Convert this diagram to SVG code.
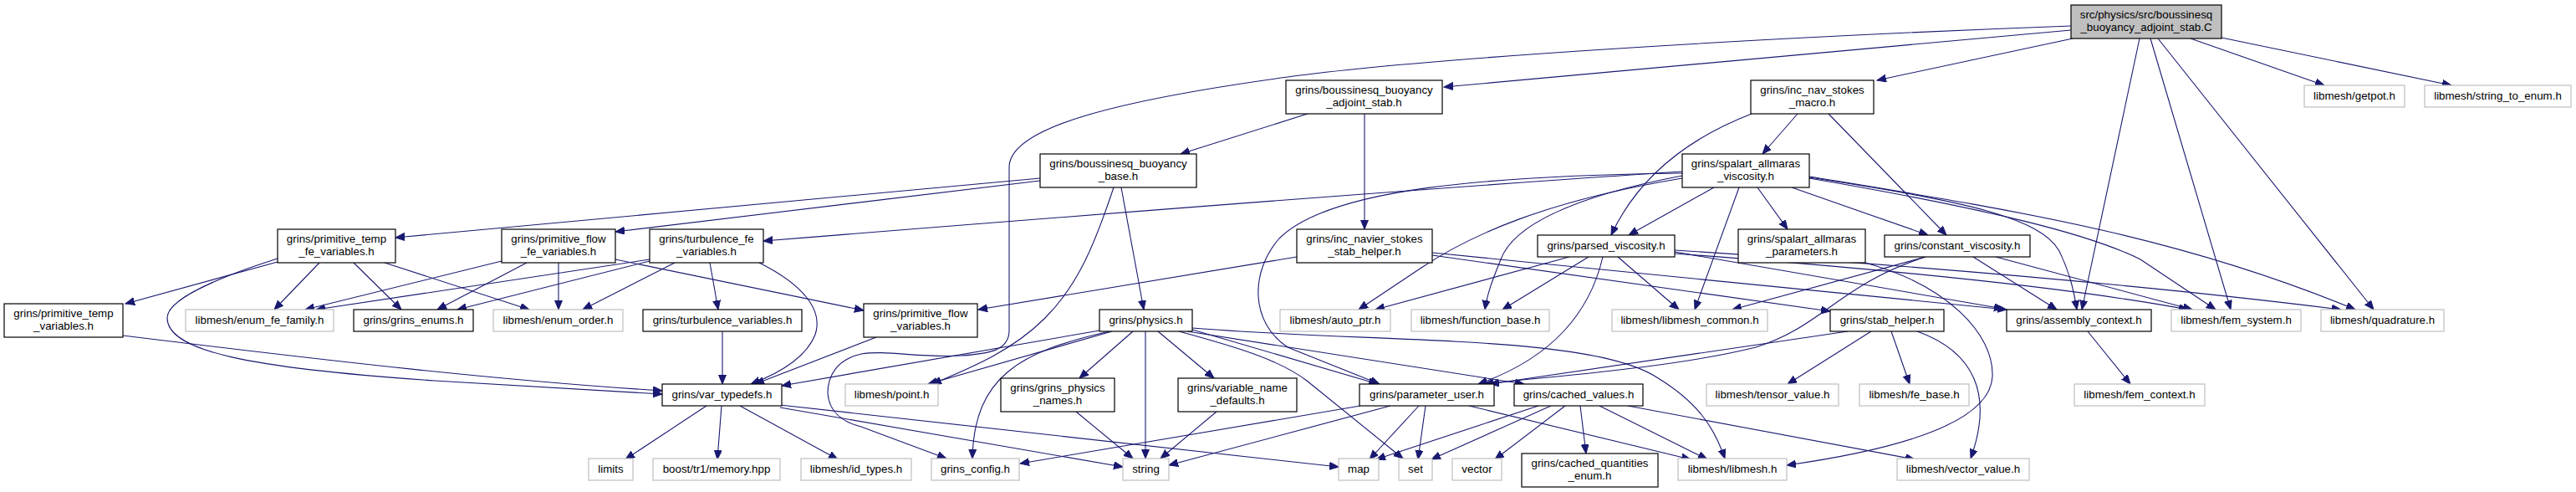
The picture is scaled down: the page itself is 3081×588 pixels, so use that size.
<svg xmlns="http://www.w3.org/2000/svg" width="3081" height="588" viewBox="0 0 3081 588">
<style>
.n rect{fill:#fff;stroke:#000;stroke-width:1.2}
.g rect{fill:#fff;stroke:#bfbfbf;stroke-width:1.2}
.r rect{fill:#bfbfbf;stroke:#000;stroke-width:1.2}
text{font-family:"Liberation Sans",Arial,sans-serif;font-size:13.33px;text-anchor:middle;fill:#000}
#edges path{fill:none;stroke:#191970;stroke-width:1.1;marker-end:url(#a)}
</style>
<defs>
<marker id="a" markerWidth="12" markerHeight="10" refX="11" refY="4.5" orient="auto" markerUnits="userSpaceOnUse"><path d="M0,0 L11,4.5 L0,9 z" fill="#191970" stroke="#191970" stroke-width="1"/></marker>
</defs>
<rect width="3081" height="588" fill="#fff"/>
<g id="edges">
<path d="M2477,36 L1727,104"/>
<path d="M2477,31 C2100,45 1700,70 1540,92 C1350,118 1207,150 1207,200 L1207,395 C1207,420 1180,423 1150,425 C1100,428 1060,418 1030,423 C1000,430 990,450 990,470 C992,495 1010,505 1030,510 L1132,548"/>
<path d="M2479,46 L2245,96"/>
<path d="M2620,46 L2780,102"/>
<path d="M2657,45 L2932,102"/>
<path d="M2559,46 L2490,370"/>
<path d="M2572,46 L2668,370"/>
<path d="M2581,46 L2839,370"/>
<path d="M1567,135 L1412,184"/>
<path d="M1632,136 L1632,274"/>
<path d="M2150,136 L2108,184"/>
<path d="M2187,136 L2328,281"/>
<path d="M2095,136 C2020,165 1960,210 1927,281"/>
<path d="M1244,213 L473,284"/>
<path d="M1244,216 L736,277"/>
<path d="M1341,224 L1368,370"/>
<path d="M1332,224 C1310,290 1290,340 1250,380 C1210,420 1160,440 1115,459"/>
<path d="M2012,205 C1700,225 1200,265 913,288"/>
<path d="M2050,224 L1948,281"/>
<path d="M2102,224 L2138,274"/>
<path d="M2143,224 L2306,281"/>
<path d="M2080,224 L2027,370"/>
<path d="M2012,213 C1850,240 1760,280 1700,320 L1625,370"/>
<path d="M2012,210 C1880,235 1810,270 1795,310 C1785,335 1779,350 1776,370"/>
<path d="M2012,207 C1780,210 1590,225 1530,285 C1495,325 1495,385 1540,415 L1650,459"/>
<path d="M2164,212 C2350,240 2440,260 2463,300 C2475,325 2480,345 2484,370"/>
<path d="M2164,213 C2380,250 2500,280 2560,310 L2650,370"/>
<path d="M2164,211 C2400,250 2600,280 2817,370"/>
<path d="M332,313 L150,363"/>
<path d="M382,314 L328,370"/>
<path d="M423,314 L480,370"/>
<path d="M460,314 L633,370"/>
<path d="M332,309 C250,335 200,360 200,380 C200,420 300,440 520,455 L792,471"/>
<path d="M147,401 C400,432 600,455 792,467"/>
<path d="M600,312 L365,370"/>
<path d="M630,314 L523,370"/>
<path d="M668,314 L668,370"/>
<path d="M736,310 L1033,371"/>
<path d="M777,310 L378,370"/>
<path d="M777,312 L547,370"/>
<path d="M807,314 L697,370"/>
<path d="M849,314 L859,370"/>
<path d="M908,314 C960,340 985,370 975,400 C965,425 935,445 898,459"/>
<path d="M864,396 L864,459"/>
<path d="M1048,403 L903,459"/>
<path d="M1315,395 L935,461"/>
<path d="M1551,307 L1170,370"/>
<path d="M1713,305 L2189,372"/>
<path d="M1713,302 L2400,370"/>
<path d="M2003,301 L2396,369"/>
<path d="M2003,303 C2300,325 2500,348 2617,370"/>
<path d="M2003,299 C2300,318 2560,340 2800,370"/>
<path d="M1877,307 L1645,370"/>
<path d="M1900,307 L1797,370"/>
<path d="M1935,307 L2008,370"/>
<path d="M1917,307 C1900,380 1850,430 1768,459"/>
<path d="M2303,307 L2072,370"/>
<path d="M2303,307 C2200,340 2180,390 2100,415 C2000,440 1850,450 1775,459"/>
<path d="M2360,307 L2460,370"/>
<path d="M2387,307 L2622,370"/>
<path d="M2210,396 L1782,459"/>
<path d="M2238,396 L2138,459"/>
<path d="M2262,396 L2284,459"/>
<path d="M2293,396 C2360,420 2385,470 2357,548"/>
<path d="M2497,396 L2548,459"/>
<path d="M1330,396 L1110,459"/>
<path d="M1327,396 C1220,420 1165,450 1163,548"/>
<path d="M1355,396 L1291,452"/>
<path d="M1385,396 L1452,452"/>
<path d="M1370,396 L1370,548"/>
<path d="M1426,394 L1648,459"/>
<path d="M1420,396 L1823,459"/>
<path d="M1410,396 C1480,415 1530,430 1563,455 L1678,548"/>
<path d="M1426,392 C1650,410 1900,400 1980,450 C2030,480 2050,510 2063,548"/>
<path d="M1287,492 L1355,548"/>
<path d="M1455,492 L1388,548"/>
<path d="M845,485 L748,549"/>
<path d="M863,485 L858,549"/>
<path d="M885,485 L1002,549"/>
<path d="M933,484 L1601,558"/>
<path d="M933,487 L1343,558"/>
<path d="M1627,485 L1220,554"/>
<path d="M1663,485 L1398,556"/>
<path d="M1697,485 L1638,549"/>
<path d="M1705,485 L1696,549"/>
<path d="M1757,485 L2022,549"/>
<path d="M1840,485 L1646,549"/>
<path d="M1855,485 L1712,549"/>
<path d="M1872,485 L1788,549"/>
<path d="M1890,485 L1897,542"/>
<path d="M1913,485 L2042,549"/>
<path d="M1947,485 L2290,549"/>
<path d="M2227,313 C2330,340 2385,400 2383,450 C2380,510 2250,540 2137,556"/>
</g>
<g id="root" class="r"><rect x="2477" y="6" width="180" height="40"/><text x="2567" y="22">src/physics/src/boussinesq</text><text x="2567" y="37">_buoyancy_adjoint_stab.C</text></g>
<g id="bbas" class="n"><rect x="1538" y="96" width="187" height="40"/><text x="1631.5" y="112">grins/boussinesq_buoyancy</text><text x="1631.5" y="127">_adjoint_stab.h</text></g>
<g id="insm" class="n"><rect x="2094" y="96" width="147" height="40"/><text x="2167.5" y="112">grins/inc_nav_stokes</text><text x="2167.5" y="127">_macro.h</text></g>
<g id="getpot" class="g"><rect x="2756" y="102" width="120" height="26"/><text x="2816" y="119">libmesh/getpot.h</text></g>
<g id="s2e" class="g"><rect x="2900" y="102" width="175" height="26"/><text x="2987.5" y="119">libmesh/string_to_enum.h</text></g>
<g id="bbb" class="n"><rect x="1244" y="184" width="187" height="40"/><text x="1337.5" y="200">grins/boussinesq_buoyancy</text><text x="1337.5" y="215">_base.h</text></g>
<g id="sav" class="n"><rect x="2012" y="184" width="152" height="40"/><text x="2088" y="200">grins/spalart_allmaras</text><text x="2088" y="215">_viscosity.h</text></g>
<g id="ptfe" class="n"><rect x="332" y="274" width="141" height="40"/><text x="402.5" y="290">grins/primitive_temp</text><text x="402.5" y="305">_fe_variables.h</text></g>
<g id="pffe" class="n"><rect x="600" y="274" width="136" height="40"/><text x="668" y="290">grins/primitive_flow</text><text x="668" y="305">_fe_variables.h</text></g>
<g id="tfe" class="n"><rect x="777" y="274" width="136" height="40"/><text x="845" y="290">grins/turbulence_fe</text><text x="845" y="305">_variables.h</text></g>
<g id="inssh" class="n"><rect x="1551" y="274" width="162" height="40"/><text x="1632" y="290">grins/inc_navier_stokes</text><text x="1632" y="305">_stab_helper.h</text></g>
<g id="pv" class="n"><rect x="1839" y="281" width="164" height="26"/><text x="1921" y="298">grins/parsed_viscosity.h</text></g>
<g id="sap" class="n"><rect x="2079" y="274" width="152" height="40"/><text x="2155" y="290">grins/spalart_allmaras</text><text x="2155" y="305">_parameters.h</text></g>
<g id="cv" class="n"><rect x="2254" y="281" width="174" height="26"/><text x="2341" y="298">grins/constant_viscosity.h</text></g>
<g id="ptv" class="n"><rect x="5" y="363" width="142" height="40"/><text x="76" y="379">grins/primitive_temp</text><text x="76" y="394">_variables.h</text></g>
<g id="eff" class="g"><rect x="222" y="370" width="177" height="26"/><text x="310.5" y="387">libmesh/enum_fe_family.h</text></g>
<g id="ge" class="n"><rect x="423" y="370" width="143" height="26"/><text x="494.5" y="387">grins/grins_enums.h</text></g>
<g id="eo" class="g"><rect x="590" y="370" width="155" height="26"/><text x="667.5" y="387">libmesh/enum_order.h</text></g>
<g id="tv" class="n"><rect x="769" y="370" width="190" height="26"/><text x="864" y="387">grins/turbulence_variables.h</text></g>
<g id="pfv" class="n"><rect x="1033" y="363" width="136" height="40"/><text x="1101" y="379">grins/primitive_flow</text><text x="1101" y="394">_variables.h</text></g>
<g id="phys" class="n"><rect x="1315" y="370" width="111" height="26"/><text x="1370.5" y="387">grins/physics.h</text></g>
<g id="ap" class="g"><rect x="1531" y="370" width="132" height="26"/><text x="1597" y="387">libmesh/auto_ptr.h</text></g>
<g id="fb" class="g"><rect x="1688" y="370" width="165" height="26"/><text x="1770.5" y="387">libmesh/function_base.h</text></g>
<g id="lc" class="g"><rect x="1928" y="370" width="186" height="26"/><text x="2021" y="387">libmesh/libmesh_common.h</text></g>
<g id="sh" class="n"><rect x="2189" y="370" width="136" height="26"/><text x="2257" y="387">grins/stab_helper.h</text></g>
<g id="ac" class="n"><rect x="2400" y="370" width="173" height="26"/><text x="2486.5" y="387">grins/assembly_context.h</text></g>
<g id="fs" class="g"><rect x="2597" y="370" width="155" height="26"/><text x="2674.5" y="387">libmesh/fem_system.h</text></g>
<g id="q" class="g"><rect x="2776" y="370" width="147" height="26"/><text x="2849.5" y="387">libmesh/quadrature.h</text></g>
<g id="vt" class="n"><rect x="792" y="459" width="143" height="26"/><text x="863.5" y="476">grins/var_typedefs.h</text></g>
<g id="pt" class="g"><rect x="1011" y="459" width="111" height="26"/><text x="1066.5" y="476">libmesh/point.h</text></g>
<g id="gpn" class="n"><rect x="1197" y="452" width="136" height="40"/><text x="1265" y="468">grins/grins_physics</text><text x="1265" y="483">_names.h</text></g>
<g id="vnd" class="n"><rect x="1409" y="452" width="142" height="40"/><text x="1480" y="468">grins/variable_name</text><text x="1480" y="483">_defaults.h</text></g>
<g id="pu" class="n"><rect x="1626" y="459" width="161" height="26"/><text x="1706.5" y="476">grins/parameter_user.h</text></g>
<g id="cvals" class="n"><rect x="1811" y="459" width="154" height="26"/><text x="1888" y="476">grins/cached_values.h</text></g>
<g id="tval" class="g"><rect x="2041" y="459" width="158" height="26"/><text x="2120" y="476">libmesh/tensor_value.h</text></g>
<g id="feb" class="g"><rect x="2224" y="459" width="131" height="26"/><text x="2289.5" y="476">libmesh/fe_base.h</text></g>
<g id="fc" class="g"><rect x="2481" y="459" width="156" height="26"/><text x="2559" y="476">libmesh/fem_context.h</text></g>
<g id="lim" class="g"><rect x="704" y="548" width="53" height="26"/><text x="730.5" y="565">limits</text></g>
<g id="boost" class="g"><rect x="781" y="548" width="152" height="26"/><text x="857" y="565">boost/tr1/memory.hpp</text></g>
<g id="idt" class="g"><rect x="958" y="548" width="132" height="26"/><text x="1024" y="565">libmesh/id_types.h</text></g>
<g id="gc" class="g"><rect x="1114" y="548" width="105" height="26"/><text x="1166.5" y="565">grins_config.h</text></g>
<g id="str" class="g"><rect x="1343" y="548" width="55" height="26"/><text x="1370.5" y="565">string</text></g>
<g id="map" class="g"><rect x="1601" y="548" width="48" height="26"/><text x="1625" y="565">map</text></g>
<g id="set" class="g"><rect x="1673" y="548" width="40" height="26"/><text x="1693" y="565">set</text></g>
<g id="vec" class="g"><rect x="1737" y="548" width="59" height="26"/><text x="1766.5" y="565">vector</text></g>
<g id="cqe" class="n"><rect x="1820" y="542" width="163" height="40"/><text x="1901.5" y="558">grins/cached_quantities</text><text x="1901.5" y="573">_enum.h</text></g>
<g id="lm" class="g"><rect x="2007" y="548" width="130" height="26"/><text x="2072" y="565">libmesh/libmesh.h</text></g>
<g id="vv" class="g"><rect x="2269" y="548" width="158" height="26"/><text x="2348" y="565">libmesh/vector_value.h</text></g>
</svg>
